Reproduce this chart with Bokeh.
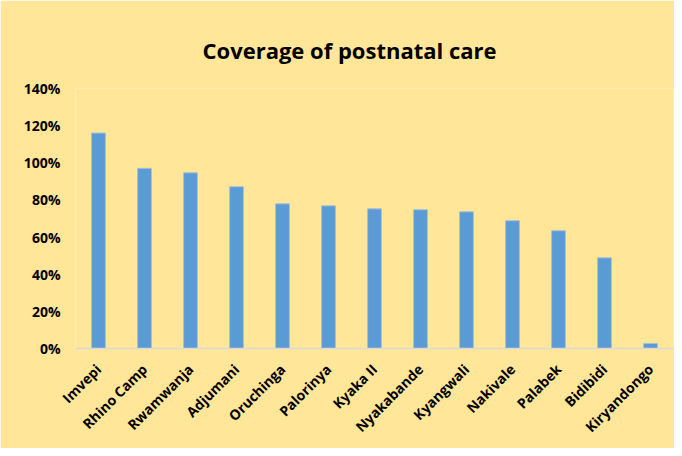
import math
from bokeh.plotting import figure
from bokeh.models import FactorRange, Range1d, FixedTicker, NumeralTickFormatter, ColumnDataSource
from bokeh.embed import file_html
from bokeh.resources import INLINE

camps = ["Imvepi", "Rhino Camp", "Rwamwanja", "Adjumani", "Oruchinga", "Palorinya",
         "Kyaka II", "Nyakabande", "Kyangwali", "Nakivale", "Palabek", "Bidibidi", "Kiryandongo"]
coverage = [1.16, 0.97, 0.946, 0.871, 0.779, 0.768, 0.752, 0.747, 0.736, 0.688, 0.634, 0.488, 0.027]
y_ticks = [0, 0.2, 0.4, 0.6, 0.8, 1.0, 1.2, 1.4]
title_text = "Coverage of postnatal care"

BG = "#FFE699"
FONT = "Open Sans"

src = ColumnDataSource(dict(camp=camps, cov=coverage))

p = figure(width=674, height=448, output_backend="svg", toolbar_location=None,
           x_range=FactorRange(factors=camps), y_range=Range1d(0, 1.4),
           title=title_text,
           min_border_left=75, min_border_right=1, min_border_top=88, min_border_bottom=100)

p.background_fill_color = BG
p.border_fill_color = BG
p.outline_line_color = None

p.vbar(x="camp", top="cov", width=0.3, source=src,
       fill_color="#5B9BD5", line_color="#A3BFD9", line_width=1)

p.title.text_font = FONT
p.title.text_font_size = "22px"
p.title.text_font_style = "bold"
p.title.text_color = "black"
p.title.align = "left"
p.title.offset = 127
p.title.standoff = 48

p.xgrid.visible = False
p.ygrid.visible = False

p.yaxis.ticker = FixedTicker(ticks=y_ticks)
p.yaxis.formatter = NumeralTickFormatter(format="0%")
p.yaxis.axis_line_color = None
p.yaxis.major_tick_line_color = None
p.yaxis.minor_tick_line_color = None
p.yaxis.major_tick_out = 0
p.yaxis.major_label_standoff = 15
p.yaxis.major_label_text_font = FONT
p.yaxis.major_label_text_font_size = "14px"
p.yaxis.major_label_text_font_style = "bold"
p.yaxis.major_label_text_color = "black"

p.xaxis.axis_line_color = "#D9D9D9"
p.xaxis.axis_line_width = 1.5
p.xaxis.major_tick_line_color = None
p.xaxis.minor_tick_line_color = None
p.xaxis.major_tick_out = 0
p.xaxis.major_label_orientation = math.pi / 4
p.xaxis.major_label_standoff = 18
p.xaxis.major_label_text_font = FONT
p.xaxis.major_label_text_font_size = "14px"
p.xaxis.major_label_text_font_style = "bold"
p.xaxis.major_label_text_color = "black"

open("out.html", "w").write(file_html(p, INLINE))
